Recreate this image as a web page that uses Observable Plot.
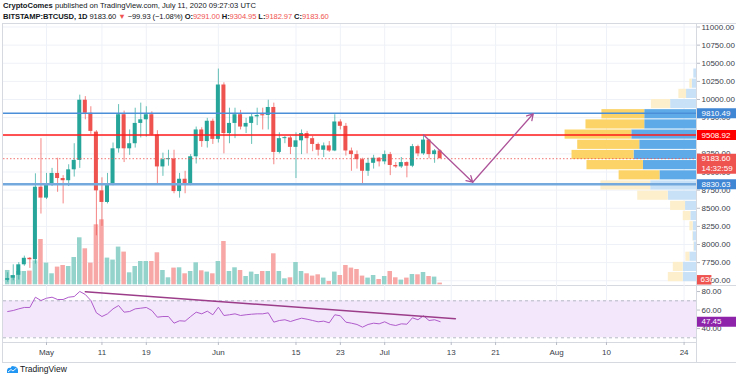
<!DOCTYPE html>
<html><head><meta charset="utf-8">
<script src="https://cdn.jsdelivr.net/npm/d3@7"></script>
<script src="https://cdn.jsdelivr.net/npm/@observablehq/plot@0.6"></script>
<style>
html,body{margin:0;padding:0;background:#fff;}
#chart{position:relative;width:736px;height:379px;overflow:hidden;background:#fff;font-family:"Liberation Sans",Arial,sans-serif;color:#131722;}
.layer{position:absolute;left:0;width:736px;}
.hdr{position:absolute;left:3px;font-size:7.6px;line-height:10px;white-space:nowrap;color:#131722;}
.hdr .r{color:#ef5350}
.hl{position:absolute;background:#d6d9e0;}
.logo{position:absolute;left:7px;top:364px;font-size:8.5px;color:#131722;display:flex;align-items:center;gap:2px;}
</style></head><body>
<div id="chart">
 <div class="hdr" style="top:1px"><b>CryptoComes</b> published on TradingView.com, July 11, 2020 09:27:03 UTC</div>
 <div class="hdr" style="top:12px;letter-spacing:-0.1px"><b>BITSTAMP:BTCUSD, 1D</b> 9183.60 <span class="r">▼</span> −99.93 (−1.08%) <b>O:</b><span class="r">9291.00</span> <b>H:</b><span class="r">9304.95</span> <b>L:</b><span class="r">9182.97</span> <b>C:</b><span class="r">9183.60</span></div>
 <div class="hl" style="left:2px;top:23px;width:734px;height:1px"></div>
 <div class="hl" style="left:2px;top:23px;width:1px;height:339px"></div>
 <div class="hl" style="left:696px;top:23px;width:1px;height:339px"></div>
 <div class="hl" style="left:2px;top:285px;width:734px;height:1px"></div>
 <div class="hl" style="left:2px;top:342px;width:695px;height:1px"></div>
 <div class="hl" style="left:2px;top:362px;width:734px;height:1px"></div>
 <div class="logo"><svg width="11" height="8" viewBox="0 0 11 8"><path d="M0 8 L0 5 Q1 2 3.5 3 Q4.5 0 7.5 1.5 Q10.5 1.5 11 5 L11 8Z" fill="#2196f3"/><path d="M1 7 L4 4.5 L6 6 L9.5 3" stroke="#fff" stroke-width="0.9" fill="none"/></svg><span>TradingView</span></div>
</div>
<script>
// ---------- data ----------
const firstDate = "2020-04-24";
const opens  = [7505,7535,7575,7720,7810,7790,8790,8640,8830,8980,8910,8880,9030,9160,9990,9810,9550,8740,8580,8830,9320,9790,9320,9390,9670,9720,9790,9510,9070,9170,9180,8730,8900,8840,9210,9580,9420,9700,9450,10200,9530,9670,9790,9620,9670,9760,9790,9780,9890,9270,9460,9470,9340,9430,9530,9460,9380,9300,9360,9290,9690,9630,9290,9240,9170,9010,9120,9190,9140,9240,9090,9070,9130,9080,9350,9250,9440,9240,9291];
const highs  = [7610,7720,7750,7840,7820,8975,9460,8980,9050,9190,8950,9100,9390,10060,10040,9900,9570,8920,8980,9400,9930,9840,9580,9880,9950,9900,9830,9570,9260,9300,9300,8980,9010,9240,9620,9610,9740,9730,10420,10230,9880,9880,9850,9740,9800,9880,9880,9990,9950,9540,9490,9490,9540,9580,9560,9490,9400,9400,9420,9790,9720,9670,9330,9290,9190,9190,9230,9200,9290,9270,9130,9200,9140,9380,9370,9500,9450,9310,9304.95];
const lows   = [7480,7500,7510,7700,7670,7730,8420,8620,8800,8720,8560,8800,8930,9050,9720,9520,8120,8250,8560,8810,9260,9130,9230,9330,9470,9480,9500,8820,8940,9080,8700,8640,8700,8810,9110,9340,9330,9380,9400,9250,9390,9460,9580,9530,9380,9640,9580,9580,9100,9250,9390,9240,8910,9240,9250,9280,9220,9200,9270,9280,9580,9220,9010,9040,8840,8940,9040,9070,9100,8950,9050,9050,8920,9060,9210,9230,9180,9120,9182.97];
const closes = [7530,7570,7720,7810,7790,8790,8640,8830,8980,8910,8880,9030,9160,9990,9810,9560,8740,8580,8830,9320,9790,9320,9390,9670,9720,9790,9510,9070,9170,9180,8730,8900,8840,9210,9580,9420,9700,9450,10200,9530,9670,9790,9620,9670,9760,9780,9775,9890,9270,9460,9470,9340,9430,9530,9460,9380,9300,9360,9290,9690,9630,9290,9240,9170,9010,9120,9190,9140,9240,9090,9070,9130,9080,9350,9250,9440,9240,9291,9183.60];
const volumes = [5300,3440,4920,4920,5070,8880,16760,8030,4070,6550,7140,6770,10100,17390,13320,8030,22200,24050,9880,9140,13950,12100,4440,6770,8620,8620,8620,11840,5290,2590,6180,6290,4070,4920,8140,5180,4700,4070,8620,16020,4920,6290,5290,3070,4700,3810,4920,4920,11470,4920,2220,2590,8250,4920,4070,3220,3700,2480,1220,4700,3440,7140,6180,5660,3220,2480,3440,1960,3070,4920,2590,1740,2480,3810,3700,4550,3070,2850,630];
const rsiValues = [58.4,59.5,61.3,62.8,62.8,73.9,70.3,72.8,73.9,71.4,71.4,73.9,74.6,80.1,76.8,70.3,57.0,53.0,55.9,61.3,64.9,57.7,58.4,61.3,62.0,62.8,59.5,52.3,53.0,53.0,45.8,48.4,48.0,53.0,57.7,55.9,58.8,54.9,63.1,54.1,54.9,55.9,54.1,54.9,55.5,55.9,55.9,57.0,46.9,48.7,49.5,47.6,49.5,51.2,50.1,48.7,47.3,48.0,46.2,54.9,53.8,46.9,45.8,44.4,41.5,44.4,45.8,45.1,47.3,44.4,43.3,45.1,44.7,51.6,49.5,53.8,48.7,49.5,47.45];

// visible-range volume profile (rows bottom -> top)
const vpEdges = [7480,7620,7761,7901,8042,8182,8322,8463,8603,8744,8884,9024,9165,9305,9446,9586,9726,9867,10007,10148,10288,10428];
const vpUp    = [15,10,4,0.5,0.5,3.4,7.6,15,30.7,50,41,56.7,62.3,62.3,67,59,43,19.3,7.7,2.4,0];
const vpDown  = [13.3,13.3,6.7,2.3,3.3,3.3,5.7,11,28.3,46,36.7,53.3,62.7,57,65,52,52,26,10,4.3,2.7];
const vpValueArea = [0,0,0,0,0,0,0,0,0,0,1,1,1,1,1,1,1,0,0,0,0];

const priceTicks = [7500,7750,8000,8250,8500,8750,9000,9250,9500,9750,10000,10250,10500,10750,11000];
const rsiTicks = [40,60,80];
const timeTickDates = ["2020-05-01","2020-05-11","2020-05-19","2020-06-01","2020-06-15","2020-06-23","2020-07-01","2020-07-13","2020-07-21","2020-08-01","2020-08-10","2020-08-24"];
const timeTickLabels = ["May","11","19","Jun","15","23","Jul","13","21","Aug","10","24"];

const resistanceHigh = 9810.49, resistanceMid = 9508.92, supportLow = 8830.63, lastPrice = 9183.60;
const countdown = "14:32:59";
const lastVolume = 630, lastRsi = 47.45;
const arrowPoints = [
  {date: "2020-07-08T00:00Z", price: 9513},
  {date: "2020-07-16T21:00Z", price: 8859},
  {date: "2020-07-27T19:00Z", price: 9803}
];
const rsiTrend = [
  {date: "2020-05-08T00:00Z", rsi: 79.7},
  {date: "2020-07-13T18:00Z", rsi: 50.6}
];

// ---------- setup ----------
const FONT = '"Liberation Sans", Arial, Helvetica, sans-serif';
const chart = document.getElementById("chart");
const W = 736;
const UP = "#26a69a", DOWN = "#ef5350";
const xDomain = [new Date("2020-04-23T05:50Z"), new Date("2020-08-26T05:45Z")];
const priceDomain = [7434.5, 11034.5];
const PANE_TOP = 24, PANE_H = 261;
const RSI_TOP = 285, RSI_H = 77;
const rsiDomain = [24.92, 86.54];
const volDomain = [0, 96300];

const t0 = new Date(firstDate + "T00:00Z");
const candles = opens.map((o, i) => ({
  date: d3.utcDay.offset(t0, i), o, h: highs[i], l: lows[i], c: closes[i],
  v: volumes[i], rsi: rsiValues[i], up: closes[i] >= opens[i]
}));
const hrs = (date, h) => new Date(+date + h * 3600e3);
const timeTicks = timeTickDates.map(s => new Date(s + "T00:00Z"));
const tickLabel = d => timeTickLabels[timeTicks.findIndex(t => +t === +d)];
const vpRows = vpUp.map((u, i) => ({lo: vpEdges[i], hi: vpEdges[i + 1], up: u, down: vpDown[i], va: vpValueArea[i]}));
const arrows = arrowPoints.slice(1).map((p, i) => ({
  x1: new Date(arrowPoints[i].date), y1: arrowPoints[i].price, x2: new Date(p.date), y2: p.price
}));
const trend = rsiTrend.map(d => ({date: new Date(d.date), rsi: d.rsi}));

function addLayer(top, height, options) {
  const svg = Plot.plot(Object.assign({
    width: W, height, marginTop: 0, marginBottom: 0, marginLeft: 3, marginRight: 40,
    color: {type: "identity"},
    style: {background: "transparent", fontFamily: FONT, fontSize: "8px", color: "#3a3e4a", overflow: "visible"}
  }, options));
  const div = document.createElement("div");
  div.className = "layer";
  div.style.top = top + "px";
  div.appendChild(svg);
  chart.appendChild(div);
}

// grid + price axis
addLayer(PANE_TOP, PANE_H, {
  x: {type: "utc", domain: xDomain, axis: null},
  y: {domain: priceDomain, axis: null},
  marks: [
    Plot.ruleY(priceTicks, {stroke: "#eef1f7"}),
    Plot.ruleX(timeTicks, {stroke: "#eef1f7"}),
    Plot.axisY({anchor: "right", ticks: priceTicks, tickFormat: d => d.toFixed(2), tickSize: 3, tickPadding: 2, stroke: "#b8bcc6", label: null})
  ]
});

// volume
addLayer(PANE_TOP, PANE_H, {
  marginBottom: 0.7,
  x: {type: "utc", domain: xDomain, axis: null},
  y: {domain: volDomain, axis: null},
  marks: [
    Plot.rect(candles, {x1: d => hrs(d.date, -9.8), x2: d => hrs(d.date, 9.8), y1: () => 0, y2: "v",
      fill: d => d.up ? "#93d3cc" : "#f7a8a6"})
  ]
});

// volume profile
addLayer(PANE_TOP, PANE_H, {
  x: {domain: [0, 696], reverse: true, axis: null},
  y: {domain: priceDomain, axis: null},
  marks: [
    Plot.rect(vpRows, {x1: () => 0, x2: "down", y1: "lo", y2: "hi", insetTop: 0.5, insetBottom: 0.5,
      fill: d => d.va ? "#5eaae8" : "#c8e1f6"}),
    Plot.rect(vpRows, {x1: "down", x2: d => d.down + d.up, y1: "lo", y2: "hi", insetTop: 0.5, insetBottom: 0.5,
      fill: d => d.va ? "#fbd366" : "#fdefcc"})
  ]
});

// candles and drawings
addLayer(PANE_TOP, PANE_H, {
  x: {type: "utc", domain: xDomain, axis: null},
  y: {domain: priceDomain, axis: null},
  marks: [
    Plot.ruleX(candles, {x: "date", y1: "l", y2: "h", stroke: d => d.up ? UP : DOWN, strokeWidth: 1, strokeOpacity: 0.7}),
    Plot.rect(candles, {x1: d => hrs(d.date, -8.7), x2: d => hrs(d.date, 8.7),
      y1: d => Math.min(d.o, d.c), y2: d => Math.max(d.o, d.c, Math.min(d.o, d.c) + 14),
      fill: d => d.up ? UP : DOWN}),
    Plot.ruleY([lastPrice], {stroke: "#ef5350", strokeWidth: 1, strokeDasharray: "1.5,2", strokeOpacity: 0.8}),
    Plot.ruleY([supportLow], {stroke: "#74a9de", strokeWidth: 2.4}),
    Plot.ruleY([resistanceHigh], {stroke: "#4a8fd8", strokeWidth: 1.3}),
    Plot.ruleY([resistanceMid], {stroke: "#ff1a1a", strokeWidth: 1.5}),
    Plot.arrow(arrows, {x1: "x1", y1: "y1", x2: "x2", y2: "y2", stroke: "#ad5499", strokeWidth: 1.3, headLength: 8})
  ]
});

// price labels in the axis column
addLayer(PANE_TOP, PANE_H, {
  marginLeft: 697, marginRight: 0,
  x: {domain: [0, 1], axis: null},
  y: {domain: priceDomain, axis: null},
  marks: [
    Plot.ruleY([resistanceHigh, supportLow], {x1: () => 0, x2: () => 1, stroke: "#3f86d4", strokeWidth: 10}),
    Plot.ruleY([resistanceMid], {x1: () => 0, x2: () => 1, stroke: "#ff0000", strokeWidth: 10}),
    Plot.ruleY([lastPrice], {x1: () => 0, x2: () => 1, stroke: "#ef5350", strokeWidth: 20, dy: 5}),
    Plot.text([resistanceHigh, resistanceMid, lastPrice, supportLow], {y: d => d, x: () => 0, text: d => d.toFixed(2), textAnchor: "start", dx: 4, fill: "white"}),
    Plot.text([lastPrice], {y: d => d, x: () => 0, text: () => countdown, textAnchor: "start", dx: 4, dy: 10, fill: "white"})
  ]
});

// last volume label
addLayer(PANE_TOP, PANE_H, {
  marginLeft: 697, marginRight: 0, marginBottom: 0.7,
  x: {domain: [0, 1], axis: null},
  y: {domain: volDomain, axis: null},
  marks: [
    Plot.ruleY([lastVolume], {x1: () => 0, x2: () => 0.37, stroke: "#ef5350", strokeWidth: 9.5, dy: -3.3}),
    Plot.text([lastVolume], {y: d => d, x: () => 0, text: d => String(d), textAnchor: "start", dx: 3, dy: -3.3, fill: "white"})
  ]
});

// RSI pane + time axis
addLayer(RSI_TOP, RSI_H, {
  marginBottom: 20,
  x: {type: "utc", domain: xDomain, axis: null},
  y: {domain: rsiDomain, axis: null},
  marks: [
    Plot.ruleX(timeTicks, {stroke: "#eef1f7"}),
    Plot.rect([0], {x1: () => xDomain[0], x2: () => xDomain[1], y1: () => 30, y2: () => 70, fill: "#f3e7fc"}),
    Plot.ruleY([30, 70], {stroke: "#b6b9c3", strokeDasharray: "3,3"}),
    Plot.line(candles, {x: "date", y: "rsi", stroke: "#b05ccb", strokeWidth: 1}),
    Plot.line(trend, {x: "date", y: "rsi", stroke: "#9c3d8a", strokeWidth: 1.5}),
    Plot.axisY({anchor: "right", ticks: rsiTicks, tickFormat: d => d.toFixed(2), tickSize: 3, tickPadding: 2, stroke: "#b8bcc6", label: null}),
    Plot.axisX({anchor: "bottom", ticks: timeTicks, tickFormat: tickLabel, tickSize: 3, tickPadding: 4, stroke: "#b8bcc6", label: null})
  ]
});

// RSI value label
addLayer(RSI_TOP, RSI_H, {
  marginLeft: 697, marginRight: 0, marginBottom: 20,
  x: {domain: [0, 1], axis: null},
  y: {domain: rsiDomain, axis: null},
  marks: [
    Plot.ruleY([lastRsi], {x1: () => 0, x2: () => 1, stroke: "#8e24aa", strokeWidth: 10}),
    Plot.text([lastRsi], {y: d => d, x: () => 0, text: d => d.toFixed(2), textAnchor: "start", dx: 4, fill: "white"})
  ]
});
</script>
</body></html>
